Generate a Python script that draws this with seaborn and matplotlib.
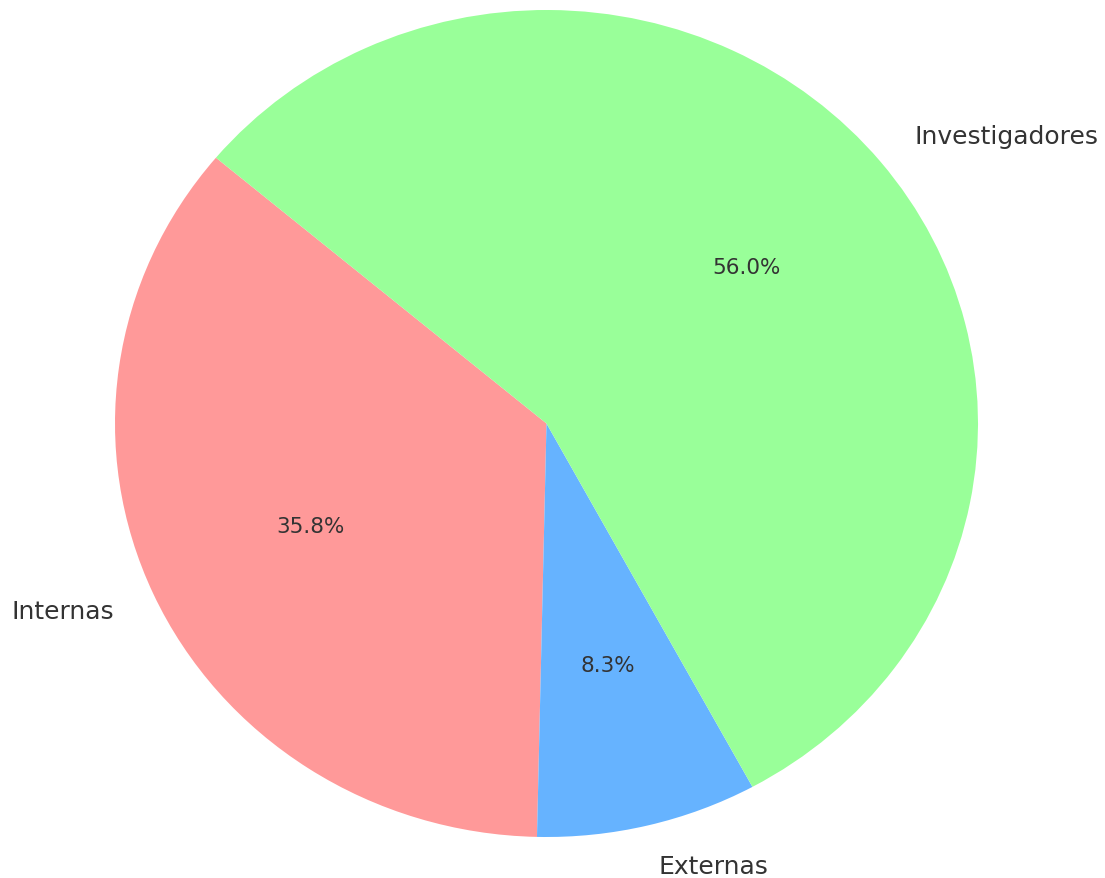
import matplotlib
matplotlib.use("Agg")
import matplotlib.pyplot as plt
import seaborn as sns

# data (shares in percent)
labels = ['Internas', 'Externas', 'Investigadores']
values = [35.76, 8.27, 55.97]
colors = ['#ff9999', '#66b3ff', '#99ff99']

sns.set_theme(style="white")
plt.rcParams['font.family'] = ['DejaVu Sans']

fig = plt.figure(figsize=(11.05, 8.79), dpi=100)
ax = fig.add_axes([115 / 1105, 41 / 879, 863 / 1105, 827 / 879])

wedges, texts, autotexts = ax.pie(values, labels=labels, colors=colors,
                                  autopct='%1.1f%%', startangle=140,
                                  wedgeprops={'linewidth': 0},
                                  textprops={'color': '.2'})
for t in texts:
    t.set_fontsize(18)
for t in autotexts:
    t.set_fontsize(15.5)

ax.set_aspect('auto')
ax.set_xlim(-1, 1)
ax.set_ylim(-1, 1)
ax.axis('off')

fig.savefig('out.png', dpi=100)
